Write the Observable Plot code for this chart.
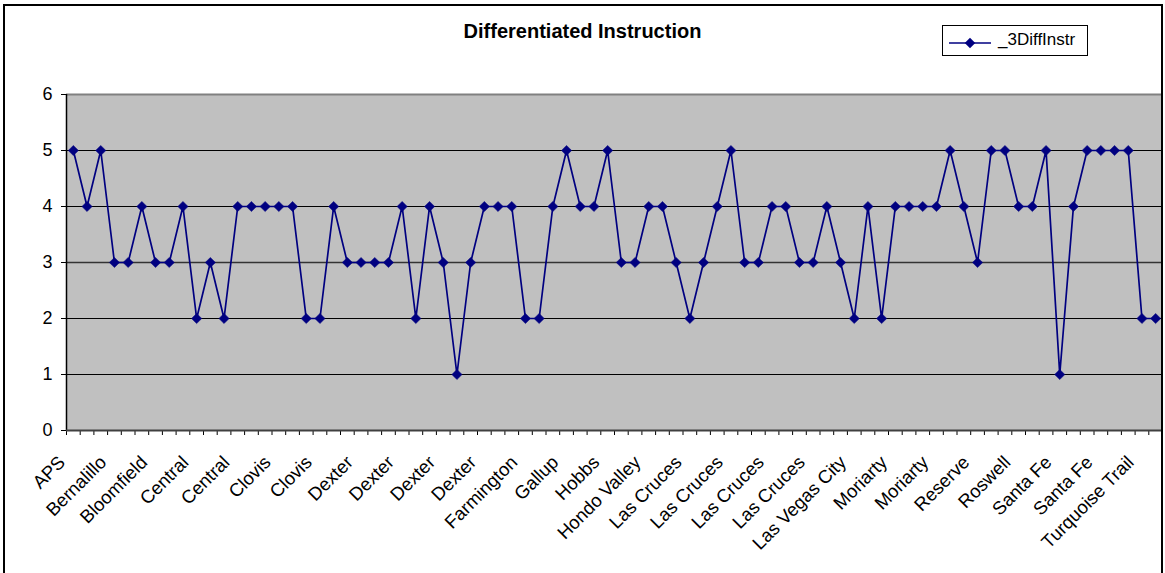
<!DOCTYPE html>
<html>
<head>
<meta charset="utf-8">
<script src="https://cdn.jsdelivr.net/npm/d3@7"></script>
<script src="https://cdn.jsdelivr.net/npm/@observablehq/plot@0.6"></script>
<style>
  html, body { margin: 0; padding: 0; background: #fff; }
  #wrap { position: relative; width: 1165px; height: 573px; overflow: hidden; font-family: "Liberation Sans", Arial, sans-serif; }
  #frame { position: absolute; left: 3px; top: 4px; width: 1160px; height: 640px; border: 2px solid #000; box-sizing: border-box; pointer-events: none; }
  #title { position: absolute; left: 0; width: 1165px; top: 19px; line-height: 24px; text-align: center; font-weight: bold; font-size: 20px; }
  #legend { position: absolute; left: 942px; top: 25px; width: 146px; height: 31px; border: 1px solid #000; background: #fff; box-sizing: border-box; }
  #legend svg { position: absolute; left: 0; top: 0; }
  #legend span { position: absolute; left: 55px; top: 4px; font-size: 17px; line-height: 20px; }
</style>
</head>
<body>
<div id="wrap">
  <div id="chart"></div>
  <div id="frame"></div>
  <div id="title">Differentiated Instruction</div>
  <div id="legend"></div>
</div>
<script>
// Series values, one per district record (80 records)
const values = [
  5,4,5,3,3,4,3,3,4,2,3,2,4,4,4,4,4,2,2,4,3,3,3,3,4,2,4,3,
  1,3,4,4,4,2,2,4,5,4,4,5,3,3,4,4,3,2,3,4,5,3,3,4,4,3,
  3,4,3,2,4,2,4,4,4,4,5,4,3,5,5,4,4,5,1,4,5,5,5,5,2,2
];
// Category labels shown on the axis (every third record)
const tickLabels = [
  "APS","Bernalillo","Bloomfield","Central","Central","Clovis","Clovis",
  "Dexter","Dexter","Dexter","Dexter","Farmington","Gallup","Hobbs",
  "Hondo Valley","Las Cruces","Las Cruces","Las Cruces","Las Cruces",
  "Las Vegas City","Moriarty","Moriarty","Reserve","Roswell","Santa Fe",
  "Santa Fe","Turquoise Trail"
];
const yTicks = [0,1,2,3,4,5,6];
const seriesName = "_3DiffInstr";
const labelStep = 3;

const data = values.map((v, i) => ({i, v}));
const labelData = tickLabels.map((name, k) => ({i: k * labelStep, name}));
const boundaries = d3.range(values.length + 1).map(k => k - 0.5);

const navy = "#000080";

const chart = Plot.plot({
  width: 1165,
  height: 573,
  marginLeft: 66,
  marginRight: 3,
  marginTop: 94,
  marginBottom: 143,
  style: { fontFamily: "'Liberation Sans', Arial, sans-serif", fontSize: "18px", background: "transparent", color: "#000" },
  x: { type: "linear", domain: [-0.5, values.length - 0.5] },
  y: { domain: [0, 6] },
  marks: [
    Plot.frame({ fill: "#C0C0C0", stroke: null }),
    Plot.ruleY([1, 2, 4, 5], { stroke: "#000", strokeWidth: 1 }),
    Plot.ruleY([3], { stroke: "#333", strokeWidth: 1.4 }),
    Plot.ruleY([6], { stroke: "#808080", strokeWidth: 2 }),
    Plot.axisY({ ticks: yTicks, tickSize: 5, tickPadding: 9, tickFormat: d3.format("d"), label: null, stroke: "#000", fontSize: 18 }),
    Plot.ruleX([-0.5], { stroke: "#000", strokeWidth: 1.5 }),
    Plot.axisX({ ticks: boundaries, tickSize: 5, tickFormat: () => "", label: null, stroke: "#000" }),
    Plot.text(labelData, { x: "i", text: "name", frameAnchor: "bottom", rotate: -45, textAnchor: "end", lineAnchor: "bottom", dx: -7, dy: 33, fontSize: 18.5, fill: "#000" }),
    Plot.ruleY([0], { stroke: "#404040", strokeWidth: 2 }),
    Plot.line(data, { x: "i", y: "v", stroke: navy, strokeWidth: 1.7 }),
    Plot.dot(data, { x: "i", y: "v", symbol: "diamond2", r: 4.6, fill: navy, stroke: navy, strokeWidth: 0.5 })
  ]
});
document.getElementById("chart").appendChild(chart);

// legend
const lg = document.getElementById("legend");
const ls = d3.create("svg").attr("width", 60).attr("height", 30);
ls.append("line").attr("x1", 6).attr("x2", 48).attr("y1", 17).attr("y2", 17).attr("stroke", navy).attr("stroke-width", 1.7);
ls.append("path").attr("d", d3.symbol(d3.symbolDiamond2, 70)()).attr("transform", "translate(27,17)").attr("fill", navy);
lg.appendChild(ls.node());
const sp = document.createElement("span");
sp.textContent = seriesName;
lg.appendChild(sp);
</script>
</body>
</html>
